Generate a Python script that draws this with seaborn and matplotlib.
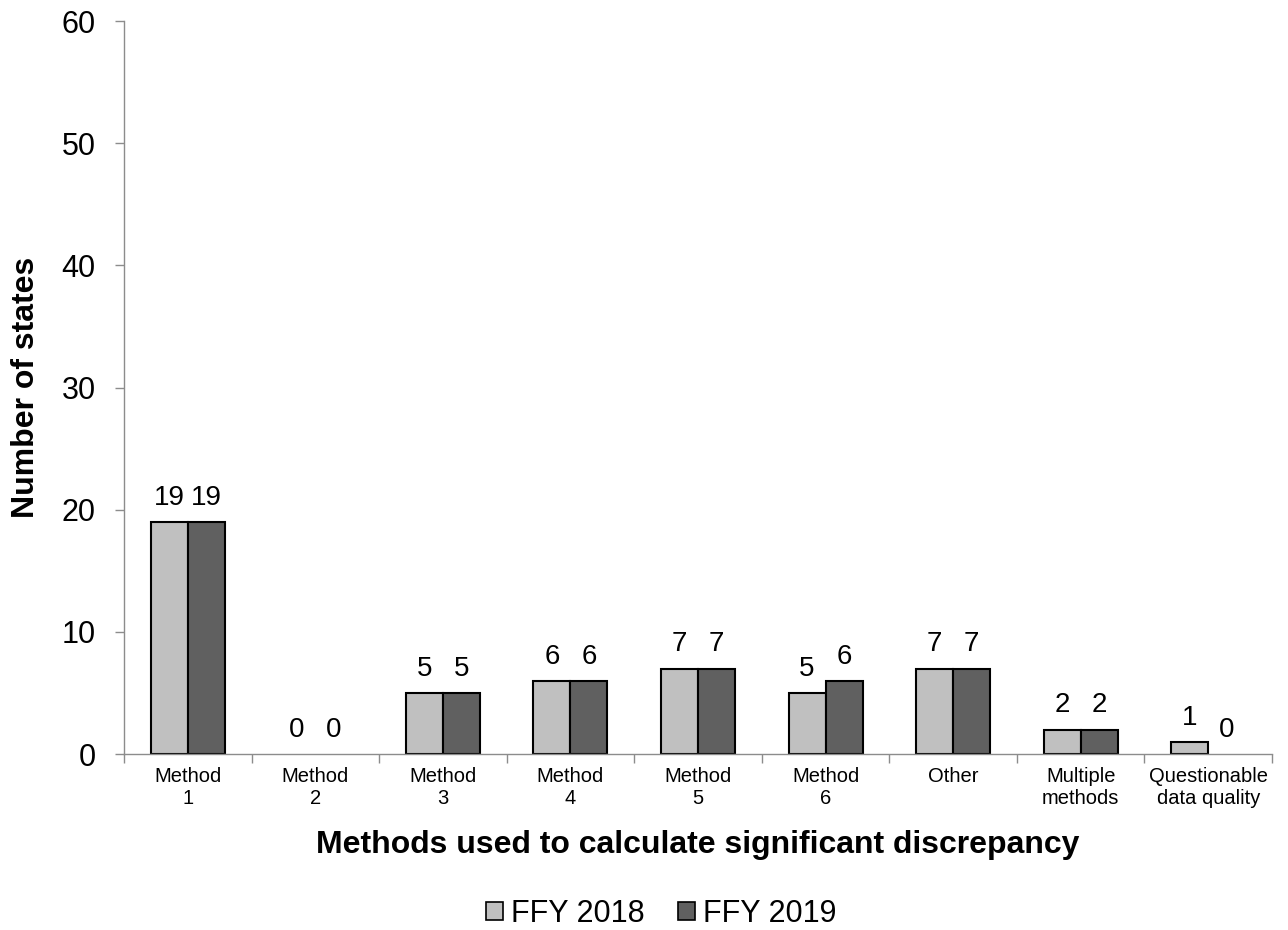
import matplotlib
matplotlib.use('Agg')
import pandas as pd
import numpy as np
import matplotlib.pyplot as plt
from matplotlib.patches import Patch
import seaborn as sns

categories = ["Method\n1", "Method\n2", "Method\n3", "Method\n4", "Method\n5",
              "Method\n6", "Other", "Multiple\nmethods", "Questionable\ndata quality"]
ffy2018 = [19, 0, 5, 6, 7, 5, 7, 2, 1]
ffy2019 = [19, 0, 5, 6, 7, 6, 7, 2, 0]
series = ["FFY 2018", "FFY 2019"]
colors = ["#c0c0c0", "#606060"]

df = pd.DataFrame({"Method": categories * 2,
                   "Year": [series[0]] * len(categories) + [series[1]] * len(categories),
                   "States": ffy2018 + ffy2019})

sns.set_style("white")
plt.rcParams['font.family'] = ['Liberation Sans', 'DejaVu Sans']
plt.rcParams['text.color'] = 'black'
plt.rcParams['xtick.color'] = 'black'
plt.rcParams['ytick.color'] = 'black'
plt.rcParams['axes.labelcolor'] = 'black'

fig = plt.figure(figsize=(12.88, 9.3), dpi=100)
ax = fig.add_axes([0.0963, 0.1892, 0.8913, 0.7882])
sns.barplot(data=df, x="Method", y="States", hue="Year", palette=colors,
            width=0.58, edgecolor="black", linewidth=1.5, saturation=1,
            legend=False, ax=ax)

# zero bars are not drawn in the original
for p in ax.patches:
    if p.get_height() == 0:
        p.set_linewidth(0)
        p.set_edgecolor("none")

for c in ax.containers:
    ax.bar_label(c, labels=["%d" % v for v in c.datavalues], padding=8, fontsize=20)

ax.set_xlim(-0.5, len(categories) - 0.5)
ax.set_ylim(0, 60)
ax.set_yticks(range(0, 61, 10))
ax.tick_params(axis="y", labelsize=22, length=6.5, width=1, color="#8c8c8c", left=True, pad=14)
ax.set_xticks(np.arange(len(categories)))
ax.set_xticklabels(categories, fontsize=14.5)
ax.tick_params(axis="x", length=0, pad=9)
# tick marks between categories, Excel style
ax.set_xticks(np.arange(-0.5, len(categories)), minor=True)
ax.tick_params(axis="x", which="minor", length=6.5, width=1, color="#8c8c8c", bottom=True)

for s in ["top", "right"]:
    ax.spines[s].set_visible(False)
for s in ["left", "bottom"]:
    ax.spines[s].set_color("#8c8c8c")
    ax.spines[s].set_linewidth(1)

ax.set_xlabel("Methods used to calculate significant discrepancy", fontsize=23,
              fontweight="bold", labelpad=16)
ax.set_ylabel("Number of states", fontsize=23, fontweight="bold", labelpad=15)

handles = [Patch(facecolor=col, edgecolor="black", linewidth=1.2, label=lab)
           for col, lab in zip(colors, series)]
ax.legend(handles=handles, loc="center", bbox_to_anchor=(0.468, -0.218), ncol=2,
          frameon=False, fontsize=22, handlelength=0.55, handleheight=0.55,
          handletextpad=0.26, columnspacing=1.1, borderpad=0)

fig.savefig("out.png", dpi=100)
